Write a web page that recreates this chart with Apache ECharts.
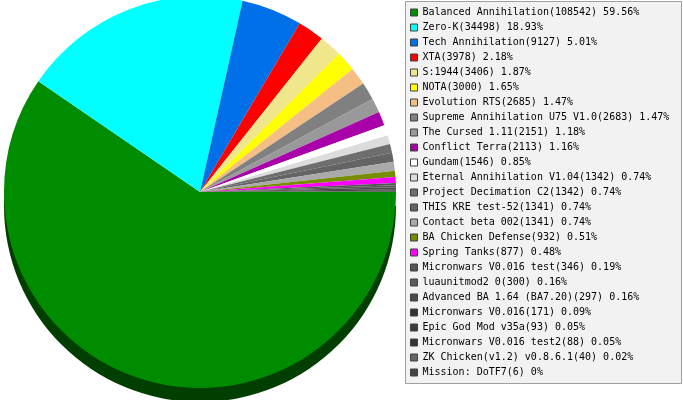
<!DOCTYPE html>
<html>
<head>
<meta charset="utf-8">
<script src="https://cdn.jsdelivr.net/npm/echarts@6/dist/echarts.min.js"></script>
<style>
html,body{margin:0;padding:0;background:#fff;}
#c{width:683px;height:400px;}
</style>
</head>
<body>
<div id="c"></div>
<script>
const names = [
  "Balanced Annihilation","Zero-K","Tech Annihilation","XTA","S:1944","NOTA",
  "Evolution RTS","Supreme Annihilation U75 V1.0","The Cursed 1.11","Conflict Terra",
  "Gundam","Eternal Annihilation V1.04","Project Decimation C2","THIS KRE test-52",
  "Contact beta 002","BA Chicken Defense","Spring Tanks","Micronwars V0.016 test",
  "luaunitmod2 0","Advanced BA 1.64 (BA7.20)","Micronwars V0.016","Epic God Mod v35a",
  "Micronwars V0.016 test2","ZK Chicken(v1.2) v0.8.6.1","Mission: DoTF7"
];
const values = [108542,34498,9127,3978,3406,3000,2685,2683,2151,2113,1546,1342,1342,1341,1341,932,877,346,300,297,171,93,88,40,6];
const percents = ["59.56","18.93","5.01","2.18","1.87","1.65","1.47","1.47","1.18","1.16","0.85","0.74","0.74","0.74","0.74","0.51","0.48","0.19","0.16","0.16","0.09","0.05","0.05","0.02","0"];
const colors = ["#008C00","#00FFFF","#0070E8","#FF0000","#F0E68C","#FFFF00","#F5BE84","#808080","#999999","#AA00AA",
  "#FFFFFF","#DCDCDC","#6E6E6E","#646464","#AAAAAA","#788C00","#FF00FF","#555555","#5A5A5A","#4A4A4A",
  "#333333","#3C3C3C","#353535","#666666","#444444"];

function darker(hex){
  const n = parseInt(hex.slice(1),16);
  const r = Math.round(((n>>16)&255)*0.45), g = Math.round(((n>>8)&255)*0.45), b = Math.round((n&255)*0.45);
  return 'rgb('+r+','+g+','+b+')';
}

const topData = names.map((n,i)=>({name:n, value:values[i], itemStyle:{color:colors[i]}}));
// side (depth) face: only the front-facing first slice is visible
const sideData = names.map((n,i)=>({name:n, value:values[i], itemStyle:{color: i===0 ? darker(colors[i]) : 'rgba(0,0,0,0)'}}));
const lookup = {};
names.forEach((n,i)=>{ lookup[n] = i; });

const chart = echarts.init(document.getElementById('c'), null, {renderer:'canvas'});
chart.setOption({
  animation:false,
  backgroundColor:'#ffffff',
  graphic:[{
    type:'rect', z:0,
    shape:{x:405.5, y:1.5, width:276, height:382},
    style:{fill:'#F2F2F2', stroke:'#A0A0A0', lineWidth:1}
  }],
  legend:{
    orient:'vertical',
    left:410, top:5, padding:0,
    itemWidth:7, itemHeight:7, itemGap:0,
    icon:'rect',
    selectedMode:false,
    data:names,
    itemStyle:{borderColor:'#404040', borderWidth:1},
    textStyle:{fontFamily:'DejaVu Sans Mono', fontSize:10, color:'#000000', lineHeight:15, padding:[0,0,0,0]},
    formatter:function(name){
      const i = lookup[name];
      return name + '(' + values[i] + ') ' + percents[i] + '%';
    }
  },
  series:[
    {
      type:'pie', name:'top', z:3,
      center:[200,192], radius:196,
      startAngle:0, clockwise:true,
      avoidLabelOverlap:false, minAngle:0,
      label:{show:false}, labelLine:{show:false},
      emphasis:{disabled:true},
      itemStyle:{borderWidth:0},
      data:topData
    },
    {
      type:'pie', name:'side', z:2, silent:true,
      center:[200,206], radius:196,
      startAngle:0, clockwise:true,
      avoidLabelOverlap:false, minAngle:0,
      label:{show:false}, labelLine:{show:false},
      emphasis:{disabled:true},
      itemStyle:{borderWidth:0},
      data:sideData
    }
  ]
});
</script>
</body>
</html>
